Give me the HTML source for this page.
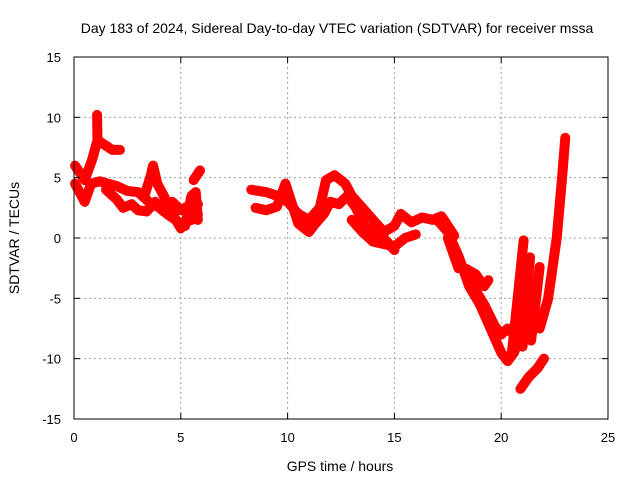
<!DOCTYPE html>
<html><head><meta charset="utf-8"><style>
body{margin:0;background:#fff}
svg{display:block;font-family:"Liberation Sans",sans-serif}
</style></head><body>
<svg id="chart" width="640" height="480">
<text x="337" y="33" font-size="14" text-anchor="middle">Day 183 of 2024, Sidereal Day-to-day VTEC variation (SDTVAR) for receiver mssa</text>
<text x="340" y="471" font-size="14" text-anchor="middle">GPS time / hours</text>
<text transform="translate(19,238) rotate(-90)" font-size="14" text-anchor="middle">SDTVAR / TECUs</text>
<g id="grid"></g><g id="marks"></g><g id="axes"></g>
</svg>
<script>
const xTicks=[0,5,10,15,20,25];
const yTicks=[-15,-10,-5,0,5,10,15];
const trackAx=[0.05,0.5,0.85,1.1,1.45,1.8,2.15];
const trackAy=[6.0,4.8,6.5,8.1,7.7,7.3,7.3];
const spikeX=[1.08,1.1];
const spikeY=[10.2,8.1];
const trackBx=[0.05,0.5,0.8,1.2,1.6,2.0,2.5,3.0,3.5,4.0,4.5,5.0,5.5,5.8];
const trackBy=[4.5,3.0,4.5,4.7,4.5,4.3,3.9,3.8,3.0,2.5,1.8,1.2,1.5,2.0];
const trackCx=[1.5,2.0,2.3,2.7,3.0,3.4,3.8,4.2,4.6,5.0,5.3,5.8];
const trackCy=[4.0,3.2,2.5,2.8,2.3,2.2,3.0,2.2,3.0,2.3,2.6,2.8];
const trackDx=[3.3,3.6,3.7,3.9,4.2,4.6,5.0];
const trackDy=[3.5,5.2,6.0,4.5,3.5,2.0,0.8];
const trackEx=[5.6,5.9];
const trackEy=[4.8,5.6];
const trackFx=[5.2,5.5,5.7,5.8];
const trackFy=[1.0,3.5,3.8,1.5];
const trackGx=[8.3,9.0,9.5,10.0,10.5,11.0,11.5,11.8,12.2,12.7,13.0,13.5,14.0,14.5,15.0,15.3,15.8,16.3,16.8,17.2,17.5,17.8];
const trackGy=[4.0,3.8,3.5,3.0,2.0,1.5,2.5,4.8,5.2,4.5,3.5,2.5,1.5,0.5,1.0,2.0,1.3,1.7,1.5,1.8,1.0,0.2];
const trackHx=[8.5,9.0,9.5,9.9,10.5,11.0,11.3,11.7,12.0,12.4,12.8,13.2,13.6,14.0,14.5,15.0];
const trackHy=[2.5,2.3,2.6,4.5,1.2,0.5,1.2,2.0,3.0,2.8,3.5,2.5,1.0,0.5,0.0,-1.0];
const trackIx=[13.0,13.5,14.0,14.5,15.0,15.5,16.0];
const trackIy=[1.5,0.5,-0.3,-0.5,-0.7,0.0,0.3];
const trackJx=[17.0,17.5,18.0,18.5,19.0,19.5,20.0,20.3,20.6,20.9];
const trackJy=[1.5,0.5,-1.5,-4.0,-5.5,-7.5,-9.5,-10.2,-9.5,-8.0];
const trackKx=[17.5,18.0,18.3,18.8,19.2,19.4];
const trackKy=[0.0,-2.5,-2.5,-3.0,-4.0,-3.5];
const trackLx=[18.0,18.5,19.2,19.7,20.0,20.3,20.6];
const trackLy=[-2.0,-3.5,-5.5,-7.3,-8.0,-7.5,-8.0];
const trackMx=[20.5,20.8,21.05];
const trackMy=[-9.5,-4.5,-0.2];
const trackNx=[21.0,21.2,21.35];
const trackNy=[-9.0,-5.0,-1.6];
const trackOx=[21.4,21.6,21.8];
const trackOy=[-8.5,-5.5,-2.4];
const trackPx=[21.8,22.2,22.6,22.85,23.0];
const trackPy=[-7.5,-5.0,0.0,5.0,8.3];
const trackQx=[20.9,21.3,21.7,22.0];
const trackQy=[-12.5,-11.5,-10.8,-10.0];
const tracks=[[trackAx,trackAy],[spikeX,spikeY],[trackBx,trackBy],[trackCx,trackCy],[trackDx,trackDy],[trackEx,trackEy],[trackFx,trackFy],[trackGx,trackGy],[trackHx,trackHy],[trackIx,trackIy],[trackJx,trackJy],[trackKx,trackKy],[trackLx,trackLy],[trackMx,trackMy],[trackNx,trackNy],[trackOx,trackOy],[trackPx,trackPy],[trackQx,trackQy]];

const L=74,R=608,T=57,B=419;
const sx=v=>L+(v-0)/25*(R-L);
const sy=v=>B-(v+15)/30*(B-T);
const NS="http://www.w3.org/2000/svg";
function mk(tag,attrs,parent){const e=document.createElementNS(NS,tag);for(const k in attrs)e.setAttribute(k,attrs[k]);parent.appendChild(e);return e;}
const grid=document.getElementById('grid'),axes=document.getElementById('axes'),marks=document.getElementById('marks');
xTicks.forEach(t=>{
  const x=sx(t);
  if(t>0&&t<25){const g=mk('line',{x1:x,x2:x,y1:T,y2:B,stroke:'#a0a0a0','stroke-dasharray':'2,3'},grid);
  
  }
  mk('line',{x1:x,x2:x,y1:B,y2:B-6,stroke:'#000'},axes);
  mk('line',{x1:x,x2:x,y1:T,y2:T+6,stroke:'#000'},axes);
  const l=mk('text',{x:x,y:B+23,'font-size':13,'text-anchor':'middle'},axes);l.textContent=t;
  
  
});
yTicks.forEach(t=>{
  const y=sy(t);
  if(t>-15&&t<15){const g=mk('line',{x1:L,x2:R,y1:y,y2:y,stroke:'#a0a0a0','stroke-dasharray':'2,3'},grid);
  
  }
  mk('line',{x1:L,x2:L+6,y1:y,y2:y,stroke:'#000'},axes);
  mk('line',{x1:R,x2:R-6,y1:y,y2:y,stroke:'#000'},axes);
  const l=mk('text',{x:L-13,y:y+5,'font-size':13,'text-anchor':'end'},axes);l.textContent=t;
  
  
});
const fr=mk('rect',{x:L,y:T,width:R-L,height:B-T,fill:'none',stroke:'#000'},axes);


tracks.forEach(([xs,ys])=>{
  const pts=xs.map((x,i)=>sx(x)+','+sy(ys[i])).join(' ');
  const pl=mk('polyline',{points:pts,fill:'none',stroke:'#ff0000','stroke-width':10,'stroke-linejoin':'round','stroke-linecap':'round'},marks);
  
  
  xs.forEach((x,i)=>{
    const cx=sx(x),cy=sy(ys[i]);
    const p=mk('path',{d:`M${cx-4},${cy}H${cx+4}M${cx},${cy-4}V${cy+4}`,stroke:'#ff0000','stroke-width':1.5},marks);
    
    
  });
});
</script>
</body></html>
